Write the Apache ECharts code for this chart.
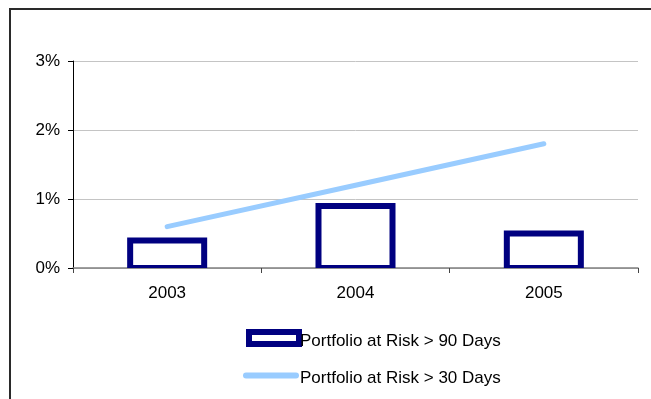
<!DOCTYPE html>
<html>
<head>
<meta charset="utf-8">
<script src="https://cdn.jsdelivr.net/npm/echarts@6/dist/echarts.min.js"></script>
<style>
  html, body { margin: 0; padding: 0; background: #fff; }
  #chart { width: 651px; height: 399px; }
</style>
</head>
<body>
<div id="chart"></div>
<script>
// Portfolio at risk by year, in percent of portfolio
const years = ['2003', '2004', '2005'];
const par90 = [0.4, 0.9, 0.5];
const par30 = [0.6, 1.2, 1.8];
const yTicks = [0, 1, 2, 3];
const seriesNames = ['Portfolio at Risk > 90 Days', 'Portfolio at Risk > 30 Days'];

const FONT = '"Liberation Sans", Arial, sans-serif';
const NAVY = '#000080';
const SKY = '#99CCFF';
const BAR_RATIO = 0.393;   // bar width as a share of the category band
const BAR_BORDER = 6;

const chart = echarts.init(document.getElementById('chart'), null, { renderer: 'canvas' });

// Hollow bars whose outline is centred on the bar edge
function renderHollowBar(params, api) {
  const cat = api.value(0);
  const top = api.coord([cat, api.value(1)]);
  const base = api.coord([cat, 0]);
  const w = api.size([1, 0])[0] * BAR_RATIO;
  return {
    type: 'rect',
    shape: { x: top[0] - w / 2, y: top[1], width: w, height: base[1] - top[1] },
    style: { fill: '#ffffff', stroke: NAVY, lineWidth: BAR_BORDER }
  };
}

// Legend label sitting slightly below the middle of its key
function legendText(dropPx) {
  return {
    color: '#000', fontSize: 17, fontFamily: FONT,
    rich: { t: { color: '#000', fontSize: 17, fontFamily: FONT, padding: [dropPx * 2, 0, 0, -4] } }
  };
}

chart.setOption({
  animation: false,
  backgroundColor: '#ffffff',
  textStyle: { fontFamily: FONT },
  graphic: [{
    type: 'polyline',
    shape: { points: [[10, 399], [10, 9], [651, 9]] },
    style: { stroke: '#2a2a2a', lineWidth: 2, fill: null },
    silent: true
  }],
  grid: { left: 73, right: 13, top: 61, bottom: 131, containLabel: false },
  xAxis: {
    type: 'category',
    data: years,
    axisLine: { lineStyle: { color: '#808080', width: 1.5 } },
    axisTick: { show: true, length: 5, lineStyle: { color: '#444' } },
    axisLabel: { color: '#000', fontSize: 17, fontFamily: FONT, margin: 17 }
  },
  yAxis: {
    type: 'value',
    min: yTicks[0],
    max: yTicks[yTicks.length - 1],
    interval: 1,
    axisLine: { show: true, lineStyle: { color: '#000', width: 1 } },
    axisTick: { show: true, length: 5, lineStyle: { color: '#000' } },
    axisLabel: { color: '#000', fontSize: 17, fontFamily: FONT, margin: 13, formatter: '{value}%' },
    splitLine: { show: true, lineStyle: { color: '#c4c4c4', width: 1 } }
  },
  legend: [{
    data: [{ name: seriesNames[0], icon: 'rect',
             itemStyle: { color: '#fff', borderColor: NAVY, borderWidth: 6 } }],
    left: 241, top: 324,
    itemWidth: 50, itemHeight: 12,
    formatter: '{t|{name}}',
    textStyle: legendText(3),
    selectedMode: false
  }, {
    data: [{ name: seriesNames[1], icon: 'path://M3,0 L53,0 A3,3 0 0 1 53,6 L3,6 A3,3 0 0 1 3,0 Z',
             itemStyle: { color: SKY, borderWidth: 0 } }],
    left: 238, top: 365,
    itemWidth: 56, itemHeight: 6,
    formatter: '{t|{name}}',
    textStyle: legendText(3),
    selectedMode: false
  }],
  series: [{
    name: seriesNames[0],
    type: 'custom',
    renderItem: renderHollowBar,
    data: par90.map((v, i) => [i, v]),
    encode: { x: 0, y: 1 },
    clip: true,
    itemStyle: { color: '#fff', borderColor: NAVY, borderWidth: BAR_BORDER }
  }, {
    name: seriesNames[1],
    type: 'line',
    data: par30,
    symbol: 'none',
    itemStyle: { color: SKY },
    lineStyle: { color: SKY, width: 5, cap: 'round' },
    z: 3
  }]
});
</script>
</body>
</html>
